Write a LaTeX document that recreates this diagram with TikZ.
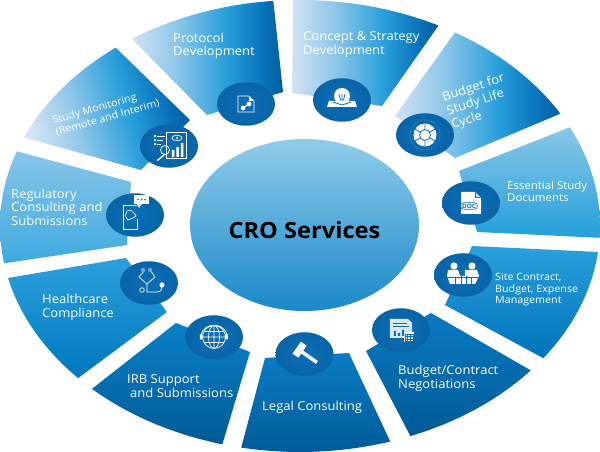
\documentclass[tikz,border=0pt]{standalone}
\usepackage{fontspec}
\setmainfont[FakeStretch=1.06]{Open Sans}
\usetikzlibrary{shapes.geometric}
\definecolor{sweepa}{HTML}{D2E3F4}
\definecolor{sweepb}{HTML}{8CC6E8}
\definecolor{sweepc}{HTML}{2A9FDB}
\definecolor{sweepd}{HTML}{0A74BD}
\definecolor{sweepe}{HTML}{005C9C}
\definecolor{discblue}{HTML}{0A6FB9}
\pgfdeclarehorizontalshading{sweepblue}{100bp}{color(0bp)=(sweepa); color(25bp)=(sweepa);
 color(40bp)=(sweepb); color(56bp)=(sweepc); color(68bp)=(sweepd); color(75bp)=(sweepe); color(100bp)=(sweepe)}
\begin{document}
\begin{tikzpicture}
[x=1pt,y=1pt,
 sweepdecorate/.style={shading=sweepblue,shading angle=#1},
 discdecorate/.style={shape=ellipse,inner sep=0pt,minimum width=58pt,minimum height=43.5pt,inner color=discblue,outer color=discblue!90!black},
 labeldecorate/.style={text=white,align=left,anchor=west,inner sep=0pt,font=\fontsize{12.3}{13.6}\selectfont},
 iconline/.style={draw=white,line width=.7pt},
 iconfill/.style={fill=white}]
\useasboundingbox (-300,-226) rectangle (300,226);
%% fan segments, light to dark across
\foreach \segname/\a/\b/\px/\py/\qx/\qy/\ang in {Protocol/95.1/124.1/-93/111/-17/134/0,
 Study/127.9/156.9/-159/56/-110/106/15, Budget/29.8/58.9/95/110/155/68/0,
 Concept/62.5/91.3/-8/133/82/120/0}
{
  \shade[sweepdecorate=\ang] (\a:300 and 226) arc[start angle=\a,end angle=\b,x radius=300,y radius=226]
   -- (\px,\py) -- (\qx,\qy) -- cycle;
}
%% fan segments, light to dark downwards
\foreach \segname/\a/\b/\px/\py/\qx/\qy/\topcol/\botcol in {
 Regulatory/160.7/189.5/-173/-19/-169/44/88C5E8/3EAAE0,
 Essential/357/385.9/159/55/177/-6/8AC6E8/22A0DA,
 Healthcare/193.3/222.3/-133/-86/-174/-32/2CA0DC/0077C0,
 Site/324.2/353.4/172/-20/145/-79/2AA0DC/0072BA,
 Irb/226.1/255/-50/-126/-124/-97/0A80C8/005A96,
 Legal/258.7/287.5/49/-127/-35/-132/0A7CC4/005A96,
 Contract/291.6/320.3/131/-87/66/-125/0A7AC2/005A96}
{
  \definecolor{segtop}{HTML}{\topcol}
  \definecolor{segbot}{HTML}{\botcol}
  \shade[top color=segtop,bottom color=segbot] (\a:300 and 226) arc[start angle=\a,end angle=\b,x radius=300,y radius=226]
   -- (\px,\py) -- (\qx,\qy) -- cycle;
}
%% centre
\definecolor{hubtop}{HTML}{90CCEA}
\definecolor{hubbot}{HTML}{1A88C9}
\node (Hub) at (4.5,1) [shape=ellipse,inner sep=0pt,minimum width=229pt,minimum height=172pt,top color=hubtop,bottom color=hubbot] {};
\node (HubText) at (4.5,-4) [font=\fontsize{22.3}{24}\selectfont\bfseries] {CRO Services};
%% discs
\foreach \nodename/\x/\y in {ProtocolDisc/-54/122, StudyDisc/-131/80, RegulatoryDisc/-165/11,
 HealthcareDisc/-151/-57, IrbDisc/-86/-111, LegalDisc/4.5/-128, ContractDisc/101/-104,
 SiteDisc/163/-49, EssentialDisc/171/23, BudgetDisc/125/91, ConceptDisc/42/126}
{
  \node (\nodename) at (\x,\y) [discdecorate] {};
}
%% labels
\node (ProtocolText) at (-127,180) [labeldecorate] {Protocol\\Development};
\node (ConceptText) at (3,181.5) [labeldecorate] {Concept \& Strategy\\Development};
\node (BudgetText) at (178,124) [labeldecorate,anchor=center,rotate=18,font=\fontsize{12.3}{14.5}\selectfont] {Budget for\\Study Life\\Cycle};
\node (EssentialText) at (207,34.5) [labeldecorate,font=\fontsize{10.8}{11.5}\selectfont] {Essential Study\\Documents};
\node (SiteText) at (195,-64) [labeldecorate,font=\fontsize{10.1}{11.5}\selectfont] {Site Contract,\\Budget, Expense\\Management};
\node (ContractText) at (98,-152.5) [labeldecorate] {Budget/Contract\\Negotiations};
\node (LegalText) at (-38,-181) [labeldecorate] {Legal Consulting};
\node (IrbText) at (-173,-160) [labeldecorate] {IRB Support\\\hspace*{3pt}and Submissions};
\node (HealthcareText) at (-258,-81.5) [labeldecorate] {Healthcare\\Compliance};
\node (RegulatoryText) at (-289,19) [labeldecorate] {Regulatory\\Consulting and\\Submissions};
\node (StudyText) at (-194,114) [labeldecorate,anchor=center,rotate=16,font=\fontsize{10.2}{12}\selectfont] {Study Monitoring\\(Remote and Interim)};
%% icons
\begin{scope}[shift={(ProtocolDisc)}]
  \draw[iconline] (-8,8) -- (3,8) -- (8,3) -- (8,-8) -- (-8,-8) -- cycle;
  \fill[iconfill] (3,8) -- (8,3) -- (3,3) -- cycle (-3,-4) circle (2.4) (3,0) circle (2.4);
  \draw[iconline,line width=1.2pt] (-3,-4) -- (3,0);
\end{scope}
\begin{scope}[shift={(ConceptDisc)}]
  \fill[iconfill] (0,4) circle (8);
  \fill[iconfill] (-15,-7) -- (-13,-1) -- (-3,-1) -- (0,-4) -- (3,-1) -- (13,-1) -- (15,-7) -- cycle;
  \draw[discblue,line width=.8pt] (-3,6) -- (-1.5,0) -- (1.5,0) -- (3,6) (0,6) -- (0,0);
  \draw[discblue,line width=.8pt] (-9,-2) -- (0,-5) -- (9,-2);
\end{scope}
\begin{scope}[shift={(BudgetDisc)}]
  \draw[white,dotted,line width=.4pt] (0,0) circle (15);
  \fill[iconfill] (0,0) circle (11.5);
  \draw[discblue,line width=.8pt] (0,0) circle (5.5) (0,5.5) -- (0,11.5) (0,-5.5) -- (0,-11.5)
   (-5,3) -- (-10,6) (5,3) -- (10,6) (-5,-3) -- (-10,-6) (5,-3) -- (10,-6);
\end{scope}
\begin{scope}[shift={(EssentialDisc)}]
  \fill[iconfill] (-10,11) -- (4,11) -- (10,5) -- (10,-11) -- (-10,-11) -- cycle;
  \fill[discblue] (4,11) -- (4,5) -- (10,5) -- (9,6) -- (5,6) -- (5,10) -- cycle;
  \node (DocTag) at (-2,-3) [draw=discblue,rounded corners=3pt,line width=.6pt,inner xsep=1.5pt,inner ysep=1pt,text=discblue,font=\fontsize{6}{6}\selectfont\bfseries] {DOC};
\end{scope}
\begin{scope}[shift={(SiteDisc)}]
  \fill[iconfill] (-9,9) circle (3.6) (9,9) circle (3.6);
  \fill[iconfill] (-15,5) -- (-5,5) -- (-3,-1) -- (2,-1) -- (2,5) -- (14,5) -- (16,-1) -- (12,-9) -- (-13,-9) -- (-16,-1) -- cycle;
  \draw[discblue,line width=.8pt] (-2,-1) -- (-2,-9) (3,-1) -- (3,-9) (-8,-2) -- (-8,-9) (8,-2) -- (8,-9) (-16,-2) -- (16,-2);
\end{scope}
\begin{scope}[shift={(ContractDisc)}]
  \fill[iconfill,opacity=.85] (-11,11) -- (7,11) -- (11,7) -- (11,-8) -- (-11,-8) -- cycle;
  \draw[discblue,line width=.7pt] (-8,7) -- (6,7) (-8,4) -- (8,4);
  \fill[discblue] (-7,-6) rectangle (-5,-1) (-3,-6) rectangle (-1,-3) (1,-6) rectangle (3,0);
  \fill[iconfill] (3,-2) rectangle (13,-12);
  \draw[discblue,line width=.5pt] (4,-4) rectangle (12,-11) (4,-6.5) -- (12,-6.5) (4,-9) -- (12,-9) (6.7,-4) -- (6.7,-11) (9.4,-4) -- (9.4,-11);
\end{scope}
\begin{scope}[shift={(LegalDisc)}]
  \begin{scope}[rotate=-35]
    \fill[iconfill] (-10,-6.5) rectangle (-3,8) (-3,-1.5) rectangle (15,2);
  \end{scope}
\end{scope}
\begin{scope}[shift={(IrbDisc)}]
  \fill[iconfill] (-14,-2.5) rectangle (-11.5,2.5) (11.5,-2.5) rectangle (14,2.5);
  \draw[iconline] (0,0) circle (11.5) (0,0) ellipse (5.5 and 11.5) (0,-11.5) -- (0,11.5) (-11.5,0) -- (11.5,0)
   (-10,5.5) -- (10,5.5) (-10,-5.5) -- (10,-5.5);
  \draw[iconline] (-13,2) arc[start angle=170,end angle=10,x radius=13.2,y radius=12];
\end{scope}
\begin{scope}[shift={(HealthcareDisc)}]
  \draw[iconline] (-4,13) -- (-10,6) -- (-2,-1) -- (6,6) -- (1,13);
  \draw[iconline] (-2,-1) -- (-2,-9) -- (8,-9) .. controls (13,-9) and (13,-5) .. (13,-2);
  \draw[iconline] (-7,-7) circle (2.3);
  \fill[discblue!60!white] (-6,13) circle (2.2) (1,13) circle (2.2);
  \fill[iconfill] (13,-2) circle (2.6);
\end{scope}
\begin{scope}[shift={(RegulatoryDisc)}]
  \draw[iconline] (-12,10) -- (2,10) (-12,10) -- (-12,-14) -- (2,-14) -- (2,-4);
  \fill[iconfill] (-1,11) rectangle (14,20);
  \fill[iconfill] (2,11) -- (7,11) -- (4,7) -- cycle;
  \fill[discblue] (3,15.5) circle (.8) (6.5,15.5) circle (.8) (10,15.5) circle (.8);
  \draw[iconline] (-8,4) .. controls (-4,6) and (-1,3) .. (1,-1) -- (-2,-3) -- (-7,-5) .. controls (-10,-1) .. (-8,4);
\end{scope}
\begin{scope}[shift={(StudyDisc)}]
  \draw[iconline,line width=1pt] (-2,13) rectangle (18,-13);
  \fill[iconfill] (-5,-8) -- (-12,-14) -- (-11,-15) -- (-4,-9) -- cycle;
  \draw[iconline] (-4,-4) circle (4.5);
  \fill[iconfill] (3,-11) rectangle (5.5,-4) (7.5,-11) rectangle (10,-1) (12,-11) rectangle (14.5,3);
  \draw[iconline] (8,8) ellipse (5 and 2.8);
  \fill[iconfill] (8,8) circle (1.2);
  \draw[iconline] (-14,10) circle (1) (-14,6) circle (1) (-14,2) circle (1);
  \draw[iconline] (-12,10) -- (-4,10) (-12,6) -- (-6,6) (-12,2) -- (-8,2);
\end{scope}
\end{tikzpicture}
\end{document}
